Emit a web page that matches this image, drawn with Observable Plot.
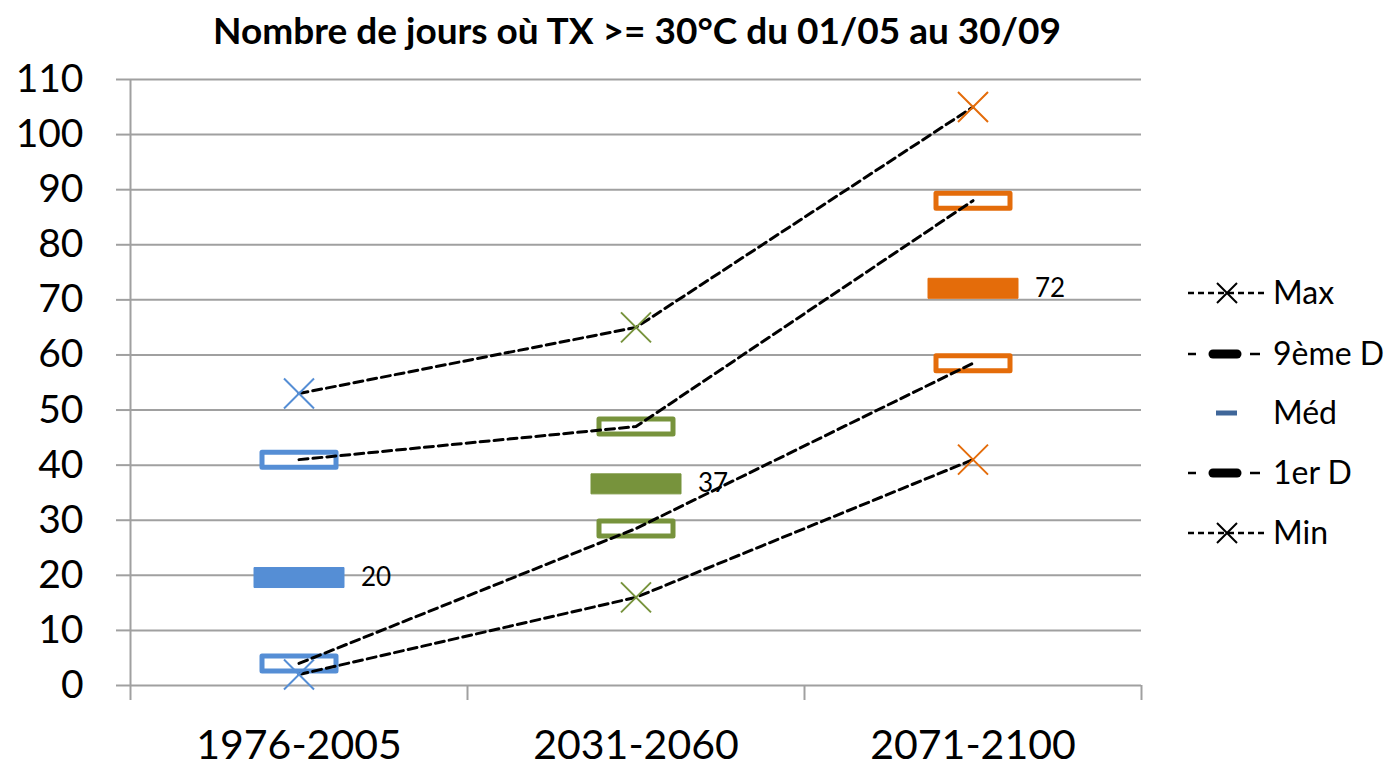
<!DOCTYPE html>
<html>
<head>
<meta charset="utf-8">
<script src="https://cdn.jsdelivr.net/npm/d3@7"></script>
<script src="https://cdn.jsdelivr.net/npm/@observablehq/plot@0.6"></script>
<style>
  html, body { margin: 0; padding: 0; background: #fff; }
  #page { position: relative; width: 1386px; height: 768px; font-family: Lato, "Open Sans", sans-serif; background: #fff; }
  #chart { position: absolute; left: 0; top: 40px; }
  #title { position: absolute; left: 0; top: 0; width: 1274px; height: 60px; line-height: 60px; text-align: center; font-weight: bold; font-size: 37px; color: #000; }
  #legend { position: absolute; left: 1170px; top: 260px; }
</style>
</head>
<body>
<div id="page">
  <div id="chart"></div>
  <div id="title">Nombre de jours où TX &gt;= 30°C du 01/05 au 30/09</div>
  <svg id="legend" width="216" height="300"></svg>
</div>
<script>
// ---- Data ----
const periods = ["1976-2005", "2031-2060", "2071-2100"];
const maxV = [53, 65, 105];
const d9 = [41, 47, 88];
const med = [19.6, 36.6, 72.1];
const d1 = [4, 28.5, 58.5];
const minV = [2, 16, 41];
const yTicks = [0, 10, 20, 30, 40, 50, 60, 70, 80, 90, 100, 110];
const periodColors = ["#558ED5", "#77933C", "#E46C0A"];
const legendLabels = ["Max", "9ème D", "Méd", "1er D", "Min"];

// ---- Derived tables ----
const rows = periods.map((p, i) => ({period: p, i, max: maxV[i], d9: d9[i], med: med[i], d1: d1[i], min: minV[i]}));
const px = d => d.i + 0.5;
const lineSeries = [["max", maxV], ["d9", d9], ["d1", d1], ["min", minV]]
  .flatMap(([k, arr]) => arr.map((v, i) => ({stat: k, i, v})));
const decileRows = [...rows.map(d => ({i: d.i, v: d.d9})), ...rows.map(d => ({i: d.i, v: d.d1}))];
const extremeRows = [...rows.map(d => ({i: d.i, v: d.max})), ...rows.map(d => ({i: d.i, v: d.min}))];

const boxSymbol = { draw(ctx) { ctx.moveTo(-37, -7.5); ctx.lineTo(37, -7.5); ctx.lineTo(37, 7.5); ctx.lineTo(-37, 7.5); ctx.closePath(); } };
const barSymbol = { draw(ctx) { ctx.moveTo(-45, -10); ctx.lineTo(45, -10); ctx.lineTo(45, 10); ctx.lineTo(-45, 10); ctx.closePath(); } };
const color = d => periodColors[d.i];
const gray = "#a0a0a0";

const chart = Plot.plot({
  width: 1386,
  height: 728,
  marginLeft: 130,
  marginRight: 245,
  marginTop: 39,
  marginBottom: 83,
  x: {domain: [0, 3], axis: null},
  y: {domain: [0, 110], axis: null},
  style: {fontFamily: "Lato, 'Open Sans', sans-serif", background: "transparent", color: "black", overflow: "visible"},
  marks: [
    Plot.ruleY(yTicks, {stroke: gray, strokeWidth: 2}),
    Plot.axisY({ticks: yTicks, tickSize: 14, tickPadding: 33, fontSize: 39, stroke: gray, strokeWidth: 2, fill: "black", label: null}),
    Plot.ruleX([0], {stroke: gray, strokeWidth: 2}),
    Plot.axisX({ticks: [0, 1, 2, 3], tickSize: 15, tickFormat: () => "", stroke: gray, strokeWidth: 2, label: null}),
    Plot.axisX({ticks: [0.5, 1.5, 2.5], tickSize: 0, tickPadding: 44, fontSize: 41, fill: "black",
      tickFormat: d => periods[Math.floor(d)], label: null}),
    Plot.dot(decileRows, {x: px, y: "v", symbol: boxSymbol, fill: "white", stroke: color, strokeWidth: 5, strokeLinejoin: "round", r: 10}),
    Plot.dot(rows, {x: px, y: "med", symbol: barSymbol, fill: color, stroke: color, strokeWidth: 1, strokeLinejoin: "round", r: 10}),
    Plot.line(lineSeries, {x: px, y: "v", z: "stat", stroke: "black", strokeWidth: 3, strokeDasharray: "9,5"}),
    Plot.dot(extremeRows, {x: px, y: "v", symbol: "times", r: 13.7, stroke: color, strokeWidth: 2}),
    Plot.text(rows, {x: px, y: "med", text: d => d3.format(".0f")(d.med), dx: 62, textAnchor: "start", fontSize: 26, fill: "black"})
  ]
});
document.getElementById("chart").append(chart);

// ---- Legend ----
const lg = d3.select("#legend");
const rowY = [33, 94, 153, 213, 273];
const symX0 = 18, symX1 = 95, symC = 57, textX = 103;
legendLabels.forEach((lab, k) => {
  const y = rowY[k];
  const g = lg.append("g");
  if (k === 0 || k === 4) {
    g.append("line").attr("x1", symX0).attr("x2", symX1).attr("y1", y).attr("y2", y)
      .attr("stroke", "black").attr("stroke-width", 2.5).attr("stroke-dasharray", "6,4");
    g.append("path").attr("d", `M${symC - 10},${y - 10}L${symC + 10},${y + 10}M${symC - 10},${y + 10}L${symC + 10},${y - 10}`)
      .attr("stroke", "black").attr("stroke-width", 2);
  } else if (k === 1 || k === 3) {
    g.append("line").attr("x1", 18).attr("x2", 26).attr("y1", y).attr("y2", y).attr("stroke", "black").attr("stroke-width", 2.5);
    g.append("line").attr("x1", 80).attr("x2", 90).attr("y1", y).attr("y2", y).attr("stroke", "black").attr("stroke-width", 2.5);
    g.append("line").attr("x1", 43).attr("x2", 67).attr("y1", y).attr("y2", y).attr("stroke", "black").attr("stroke-width", 9).attr("stroke-linecap", "round");
  } else {
    g.append("line").attr("x1", 46).attr("x2", 67).attr("y1", y).attr("y2", y).attr("stroke", "#3f6699").attr("stroke-width", 5);
  }
  g.append("text").attr("x", textX).attr("y", y).attr("dy", "0.35em")
    .attr("font-family", "Lato, 'Open Sans', sans-serif").attr("font-size", 32).attr("fill", "black").text(lab);
});
</script>
</body>
</html>
